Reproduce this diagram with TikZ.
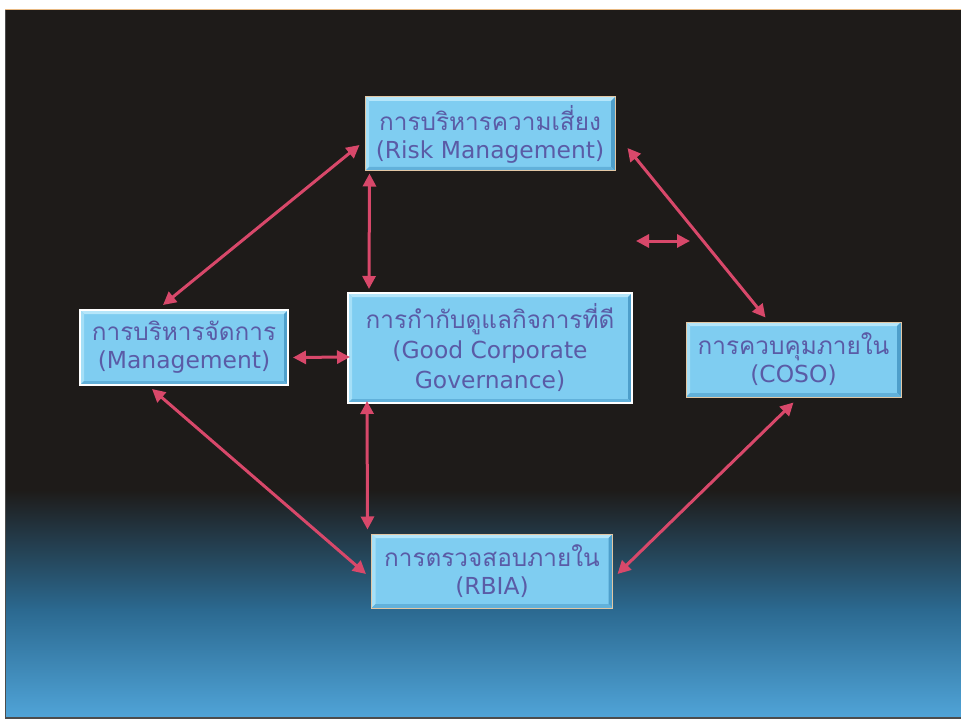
\documentclass[tikz,border=0pt]{standalone}
\usepackage{fontspec}
\setmainfont{DejaVu Sans}
\newfontfamily\thaifont[Script=Thai,Scale=1.04]{Loma}
\usetikzlibrary{arrows.meta,calc}
\definecolor{bgdark}{HTML}{1E1B19}
\definecolor{midblue}{HTML}{2B6990}
\definecolor{lowblue}{HTML}{50A4D8}
\definecolor{boxblue}{HTML}{7FCDF1}
\definecolor{bevlight}{HTML}{B5E6FA}
\definecolor{bevdark}{HTML}{4E9FCB}
\definecolor{txtblue}{HTML}{5A5BA6}
\definecolor{arrowpink}{HTML}{D8486A}
\definecolor{tanline}{HTML}{E2C7A4}
\tikzset{
  boxnode/.style={rectangle, fill=boxblue, inner sep=0pt, align=center,
    text=txtblue, font=\fontsize{23.4}{28}\selectfont,
    path picture={
      \fill[bevlight] (path picture bounding box.north west) -- (path picture bounding box.north east)
        -- ([xshift=-4pt,yshift=-4pt]path picture bounding box.north east)
        -- ([xshift=4pt,yshift=-4pt]path picture bounding box.north west) -- cycle;
      \fill[bevlight!70!boxblue] (path picture bounding box.north west) -- (path picture bounding box.south west)
        -- ([xshift=4pt,yshift=4pt]path picture bounding box.south west)
        -- ([xshift=4pt,yshift=-4pt]path picture bounding box.north west) -- cycle;
      \fill[bevdark] (path picture bounding box.north east) -- (path picture bounding box.south east)
        -- ([xshift=-4pt,yshift=4pt]path picture bounding box.south east)
        -- ([xshift=-4pt,yshift=-4pt]path picture bounding box.north east) -- cycle;
      \fill[bevdark!60!boxblue] (path picture bounding box.south west) -- (path picture bounding box.south east)
        -- ([xshift=-4pt,yshift=4pt]path picture bounding box.south east)
        -- ([xshift=4pt,yshift=4pt]path picture bounding box.south west) -- cycle;
    }},
  tanbox/.style={boxnode, draw=tanline, line width=1pt},
  whitebox/.style={boxnode, draw=white, line width=2pt},
  biarrow/.style={draw=arrowpink, line width=3pt,
    {Triangle[length=13pt,width=13pt]}-{Triangle[length=13pt,width=13pt]}}
}
\begin{document}
\begin{tikzpicture}[x=1pt,y=-1pt]
\useasboundingbox (0,0) rectangle (961,722);
\fill[white] (0,0) rectangle (961,722);
\fill[bgdark] (5,10) rectangle (961,718);
\shade[top color=bgdark, bottom color=midblue] (5,490) rectangle (961,610);
\shade[top color=midblue, bottom color=lowblue] (5,609.5) rectangle (961,718);
\draw[gray!60!black, line width=1.5pt] (5.5,10) -- (5.5,718) -- (961,718);
\draw[tanline!80!orange, line width=1pt] (5,10) -- (961,10);

\node[tanbox, minimum width=250pt, minimum height=74pt] (risk) at (490,134)
  {{\thaifont การบริหารความเสี่ยง}\\(Risk Management)};
\node[whitebox, minimum width=208pt, minimum height=75pt] (mgmt) at (184,347.5)
  {{\thaifont การบริหารจัดการ}\\(Management)};
\node[whitebox, minimum width=284pt, minimum height=110pt, font=\fontsize{23.4}{30}\selectfont] (gcg) at (490,348)
  {{\thaifont การกำกับดูแลกิจการที่ดี}\\(Good Corporate\\Governance)};
\node[tanbox, minimum width=215pt, minimum height=75pt] (coso) at (793.5,359.5)
  {{\thaifont การควบคุมภายใน}\\(COSO)};
\node[tanbox, minimum width=241pt, minimum height=74pt] (rbia) at (492,571)
  {{\thaifont การตรวจสอบภายใน}\\(RBIA)};

\coordinate (s1) at (636,241);
\coordinate (s2) at (690,241);

\draw[biarrow] ([shift={(-5,11)}]risk.west) -- ([shift={(-21,-4)}]mgmt.north);
\draw[biarrow] ([shift={(5,2)}]risk.south west) -- ([shift={(22,-3)}]gcg.north west);
\draw[biarrow] ([shift={(12,14)}]risk.east) -- ([shift={(-28,-4)}]coso.north);
\draw[biarrow] (s1) -- (s2);
\draw[biarrow] ([shift={(4,10)}]mgmt.east) -- ([shift={(3,9)}]gcg.west);
\draw[biarrow] ([shift={(20,-3)}]gcg.south west) -- ([shift={(-3.5,-4)}]rbia.north west);
\draw[biarrow] ([shift={(-32,3)}]mgmt.south) -- ([shift={(-5,3)}]rbia.west);
\draw[biarrow] ([shift={(0,5)}]coso.south) -- ([shift={(4.5,3)}]rbia.east);
\end{tikzpicture}
\end{document}
